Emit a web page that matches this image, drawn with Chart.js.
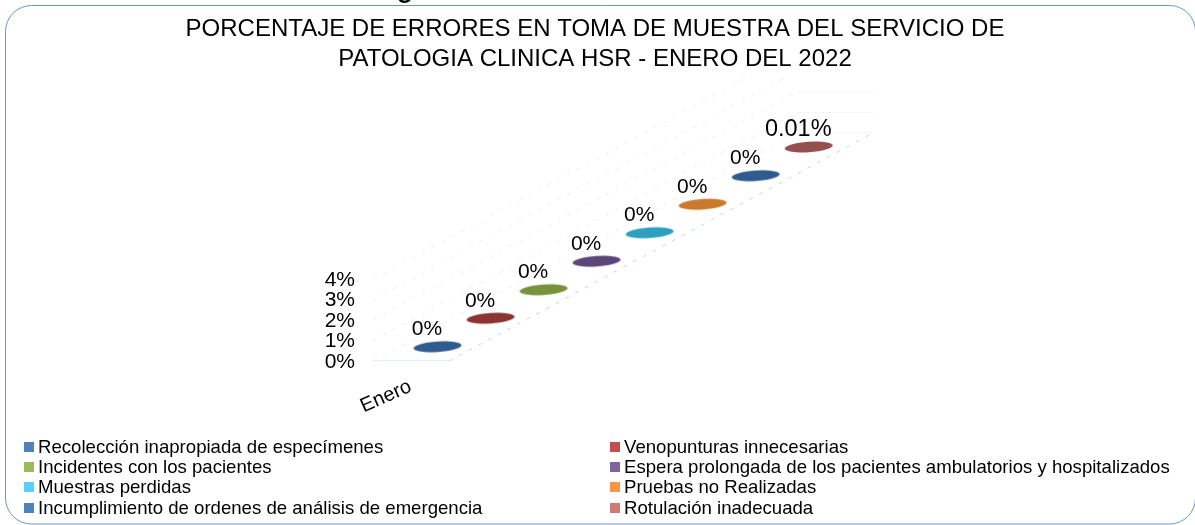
<!DOCTYPE html>
<html><head><meta charset="utf-8">
<style>html,body{margin:0;padding:0;background:#fff;overflow:hidden}#w{width:1195px;height:525px;position:relative}</style>
<script src="https://cdn.jsdelivr.net/npm/chart.js@4"></script>
</head><body><div id="w"><canvas id="c" width="1195" height="525"></canvas></div>
<script>
const titleLines = ['PORCENTAJE DE ERRORES EN TOMA DE MUESTRA DEL SERVICIO DE','PATOLOGIA CLINICA HSR - ENERO DEL 2022'];
const category = 'Enero';
const seriesNames = ['Recolección inapropiada de especímenes','Venopunturas innecesarias','Incidentes con los pacientes','Espera prolongada de los pacientes ambulatorios y hospitalizados','Muestras perdidas','Pruebas no Realizadas','Incumplimiento de ordenes de análisis de emergencia','Rotulación inadecuada'];
const seriesValues = [0,0,0,0,0,0,0,0.01];
const yTicks = [0,1,2,3,4];
const markColors = ['#2f5b8e','#8c3432','#76923c','#5c4579','#2f9fc0','#c97a2c','#2f5b8e','#964f4f'];
const legendColors = ['#4f81bd','#c0504d','#9bbb59','#8064a2','#5bd0ff','#f79646','#4f81bd','#d07a78'];

const FONT='"Liberation Sans", Arial, sans-serif';
// oblique 3D projection: depth runs up and to the right, category width runs to the right
const depthRise = 28.5/20.5;      // percent units of rise per depth step
const widthRun = 76/53;           // depth units of run across the floor
const project = (depth,w,v)=>({x:depth+w*widthRun, y:v+depth*depthRise});
const depthCount = seriesValues.length;

function ellipseSprite(color){
  const c=document.createElement('canvas');c.width=60;c.height=24;
  const g=c.getContext('2d');g.filter='blur(0.7px)';g.fillStyle=color;
  g.beginPath();g.ellipse(30,12,24,5.2,-4*Math.PI/180,0,2*Math.PI);g.fill();
  return c;
}
const wallColor='rgba(200,218,240,0.4)';
const floorColor='rgba(165,198,238,0.7)';
function gridLine(a,b,color,dash){
  return {type:'scatter',data:[a,b],showLine:true,pointRadius:0,borderColor:color,borderWidth:1,borderDash:dash,isGrid:true};
}
const gridSets=[];
gridSets.push(gridLine(project(0,0,0),project(0,1,0),'rgba(190,210,235,0.8)',[]));
gridSets.push(gridLine(project(0,1,0),project(depthCount,1,0),floorColor,[4,7]));
yTicks.forEach(t=>{
  gridSets.push(gridLine(project(0,0,t),project(depthCount,0,t),wallColor,[4,7]));
  gridSets.push(gridLine(project(depthCount,0,t),project(depthCount,1,t),'rgba(228,235,240,0.5)',[]));
});
const markSets=seriesNames.map((n,i)=>({
  type:'scatter',label:n,
  data:[project(i+0.5,0.5,seriesValues[i])],
  pointStyle:ellipseSprite(markColors[i]),
  pointRadius:24,value:seriesValues[i]
}));

const decor={id:'decor',
  beforeDraw(ch){
    const g=ch.ctx;g.save();
    g.fillStyle='#fff';g.fillRect(0,0,ch.width,ch.height);
    g.strokeStyle='#6797d2';g.lineWidth=1;
    g.beginPath();g.roundRect(5.5,5.5,1190,518.5,26);g.stroke();
    g.fillStyle='#000';g.font='bold 26px '+FONT;g.textAlign='center';g.textBaseline='alphabetic';
    g.fillText('g',405,-2);
    g.restore();
  },
  afterDatasetsDraw(ch){
    const g=ch.ctx;g.save();
    g.fillStyle='#000';g.textAlign='center';g.textBaseline='middle';
    ch.data.datasets.forEach((d,i)=>{
      if(d.isGrid)return;
      const p=ch.getDatasetMeta(i).data[0];
      g.font=(d.value>0?'23.5px ':'21px ')+FONT;
      g.fillText(d.value+'%',p.x-10.5,p.y-17.5);
    });
    // category label on the depth axis, rotated
    g.save();g.translate(386,396.5);g.rotate(-24*Math.PI/180);
    g.font='20px '+FONT;g.fillText(category,0,0);g.restore();
    // two-column legend
    const cols=[24,610],rows=[447,467,487,508];
    g.textAlign='left';g.font='18.6px '+FONT;
    seriesNames.forEach((n,i)=>{
      const x=cols[i%2],y=rows[Math.floor(i/2)];
      g.fillStyle=legendColors[i];g.fillRect(x,y-5,10,10);
      g.fillStyle='#000';g.fillText(n,x+14,y+0.5);
    });
    g.restore();
  }
};

new Chart(document.getElementById('c'),{
  data:{datasets:[...gridSets,...markSets]},
  plugins:[decor],
  options:{
    responsive:false,animation:false,
    layout:{padding:{left:0,right:5,top:0,bottom:164}},
    plugins:{
      legend:{display:false},tooltip:{enabled:false},
      title:{display:true,text:titleLines,color:'#000',
        font:{family:FONT,size:24,weight:'normal',lineHeight:1.22},
        padding:{top:15,bottom:2}}
    },
    scales:{
      x:{type:'linear',min:-0.283,max:15.03,display:false},
      y:{type:'linear',min:0,max:13.92,
        grid:{display:false,drawTicks:false},border:{display:false},
        afterFit(s){s.width=358;},
        afterBuildTicks(s){s.ticks=yTicks.map(v=>({value:v}));},
        ticks:{color:'#000',font:{family:FONT,size:21},padding:3,labelOffset:1,callback:v=>v+'%',autoSkip:false,maxRotation:0}
      }
    }
  }
});
</script></body></html>
